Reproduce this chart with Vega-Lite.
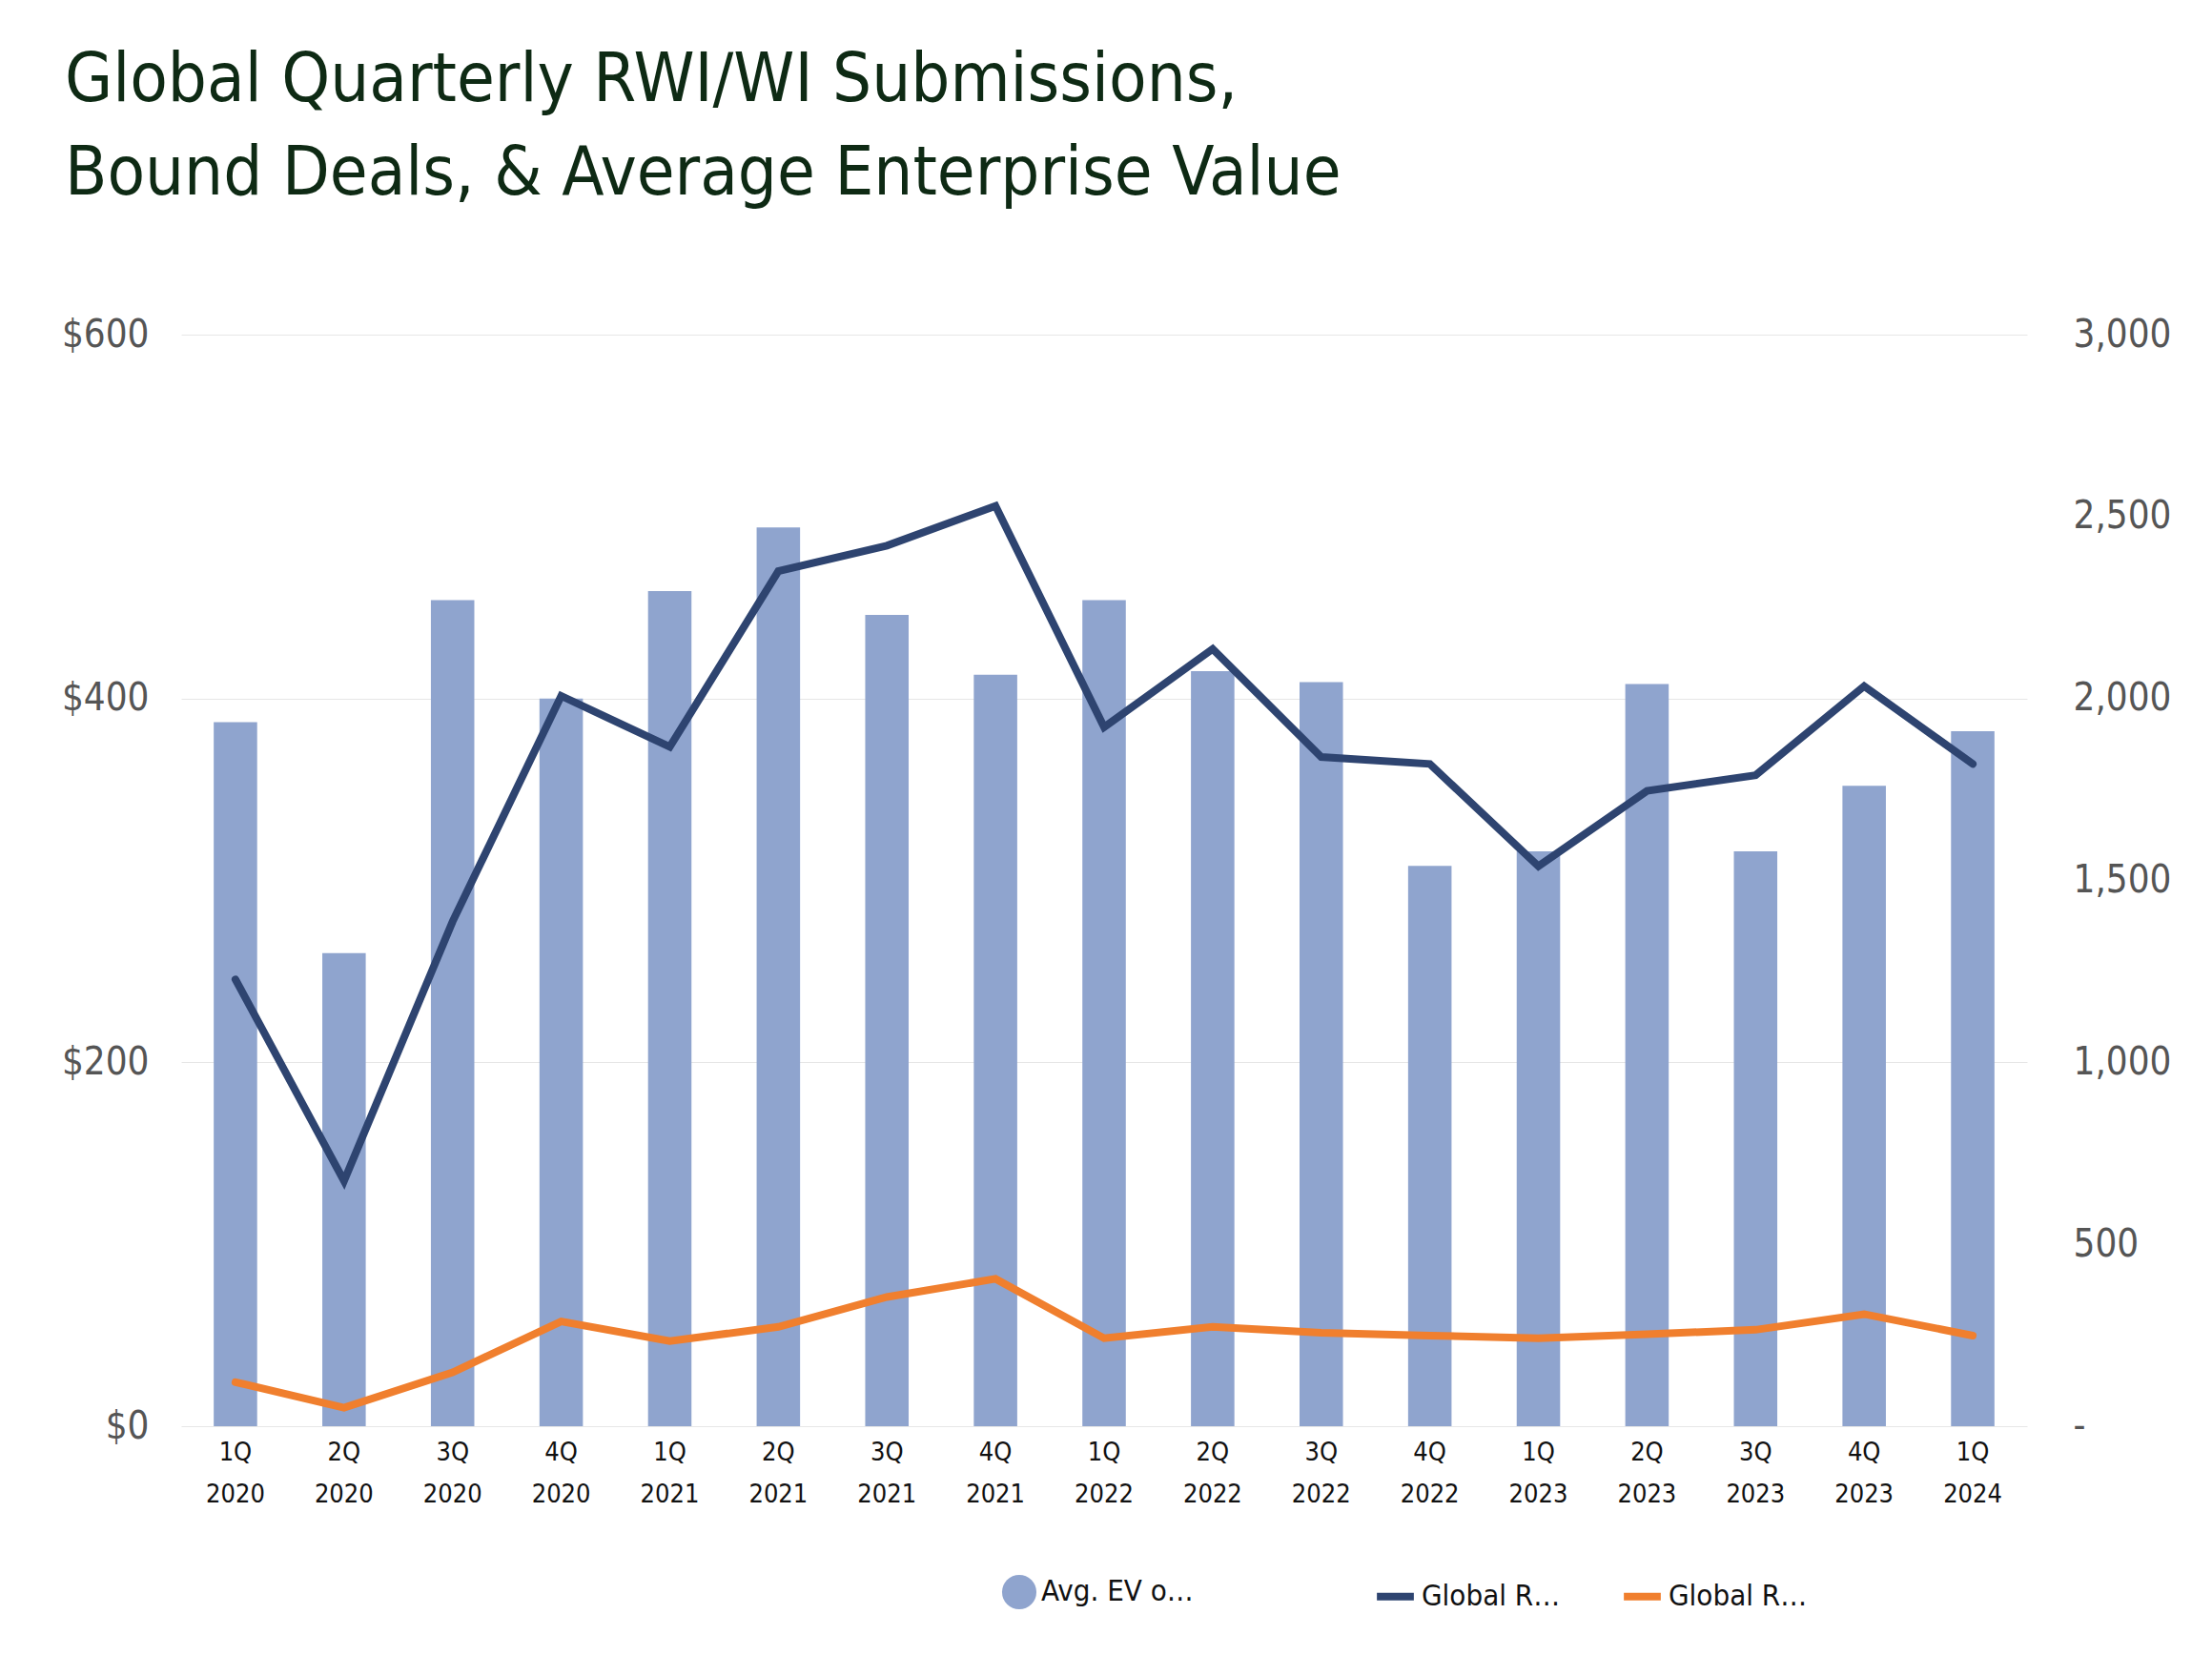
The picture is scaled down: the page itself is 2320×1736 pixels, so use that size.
{
  "$schema": "https://vega.github.io/schema/vega-lite/v6.json",
  "autosize": {"type": "none"},
  "padding": {"left": 190, "top": 351, "right": 194, "bottom": 240},
  "width": 1936,
  "height": 1145,
  "background": "white",
  "config": {
    "font": "DejaVu Sans Condensed",
    "view": {"stroke": null},
    "axis": {"labelFont": "DejaVu Sans Condensed", "labelColor": "#555555", "domain": false, "ticks": false}
  },
  "title": {
    "text": ["Global Quarterly RWI/WI Submissions,", "Bound Deals, & Average Enterprise Value"],
    "anchor": "start", "frame": "group", "dx": -122, "offset": 112,
    "fontSize": 72, "fontWeight": "normal", "color": "#0E2A14", "lineHeight": 98,
    "font": "DejaVu Sans Condensed"
  },
  "data": {"values": [
    {"q": "1Q 2020", "ev": 387, "subs": 1228, "bound": 121},
    {"q": "2Q 2020", "ev": 260, "subs": 674, "bound": 51},
    {"q": "3Q 2020", "ev": 454, "subs": 1387, "bound": 148},
    {"q": "4Q 2020", "ev": 400, "subs": 2007, "bound": 288},
    {"q": "1Q 2021", "ev": 459, "subs": 1867, "bound": 234},
    {"q": "2Q 2021", "ev": 494, "subs": 2350, "bound": 273},
    {"q": "3Q 2021", "ev": 446, "subs": 2420, "bound": 355},
    {"q": "4Q 2021", "ev": 413, "subs": 2529, "bound": 405},
    {"q": "1Q 2022", "ev": 454, "subs": 1921, "bound": 242},
    {"q": "2Q 2022", "ev": 415, "subs": 2136, "bound": 273},
    {"q": "3Q 2022", "ev": 409, "subs": 1839, "bound": 257},
    {"q": "4Q 2022", "ev": 308, "subs": 1820, "bound": 249},
    {"q": "1Q 2023", "ev": 316, "subs": 1539, "bound": 242},
    {"q": "2Q 2023", "ev": 408, "subs": 1746, "bound": 253},
    {"q": "3Q 2023", "ev": 316, "subs": 1789, "bound": 265},
    {"q": "4Q 2023", "ev": 352, "subs": 2034, "bound": 308},
    {"q": "1Q 2024", "ev": 382, "subs": 1820, "bound": 249}
  ]},
  "encoding": {
    "x": {"field": "q", "type": "nominal", "sort": null, "title": null,
      "scale": {"paddingInner": 0.6, "paddingOuter": 0.3},
      "axis": {"labelAngle": 0, "labelExpr": "split(datum.label, ' ')", "labelFontSize": 27, "labelColor": "#111111", "labelPadding": 14, "labelLineHeight": 44}}
  },
  "layer": [
    {
      "mark": {"type": "bar"},
      "encoding": {
        "y": {"field": "ev", "type": "quantitative", "title": null,
          "scale": {"domain": [0, 600]},
          "axis": {"tickCount": 6, "values": [0,100,200,300,400,500,600], "labelExpr": "'$' + datum.value", "labelFontSize": 40, "labelPadding": 34, "gridColor": "#E6E6E6"}},
        "fill": {"datum": "Avg. EV of RWI subs", "type": "nominal",
          "scale": {"range": ["#8FA4CE"]},
          "legend": {"title": null, "orient": "none", "legendX": 860, "legendY": 1300, "symbolType": "circle", "symbolSize": 1300, "labelFontSize": 31, "labelColor": "#111111"}}
      }
    },
    {
      "transform": [{"fold": ["subs", "bound"], "as": ["k", "v"]},
        {"calculate": "datum.k == 'subs' ? 'Global RWI Subs' : 'Global RWI Bound'", "as": "series"}],
      "mark": {"type": "line", "strokeWidth": 8, "strokeCap": "round"},
      "encoding": {
        "y": {"field": "v", "type": "quantitative", "title": null,
          "scale": {"domain": [0, 3000]},
          "axis": {"orient": "right", "values": [0,500,1000,1500,2000,2500,3000], "labelExpr": "datum.value == 0 ? '-' : format(datum.value, ',')", "labelFontSize": 40, "labelPadding": 48, "grid": false}},
        "stroke": {"field": "series", "type": "nominal",
          "scale": {"domain": ["Global RWI Subs", "Global RWI Bound"], "range": ["#2E4470", "#F07F2E"]},
          "legend": {"title": null, "orient": "none", "legendX": 1250, "legendY": 1300, "direction": "horizontal", "symbolType": "stroke", "symbolStrokeWidth": 8, "symbolSize": 1500, "labelFontSize": 31, "labelColor": "#111111", "columnPadding": 50}}
      }
    }
  ],
  "resolve": {"scale": {"y": "independent"}}
}
